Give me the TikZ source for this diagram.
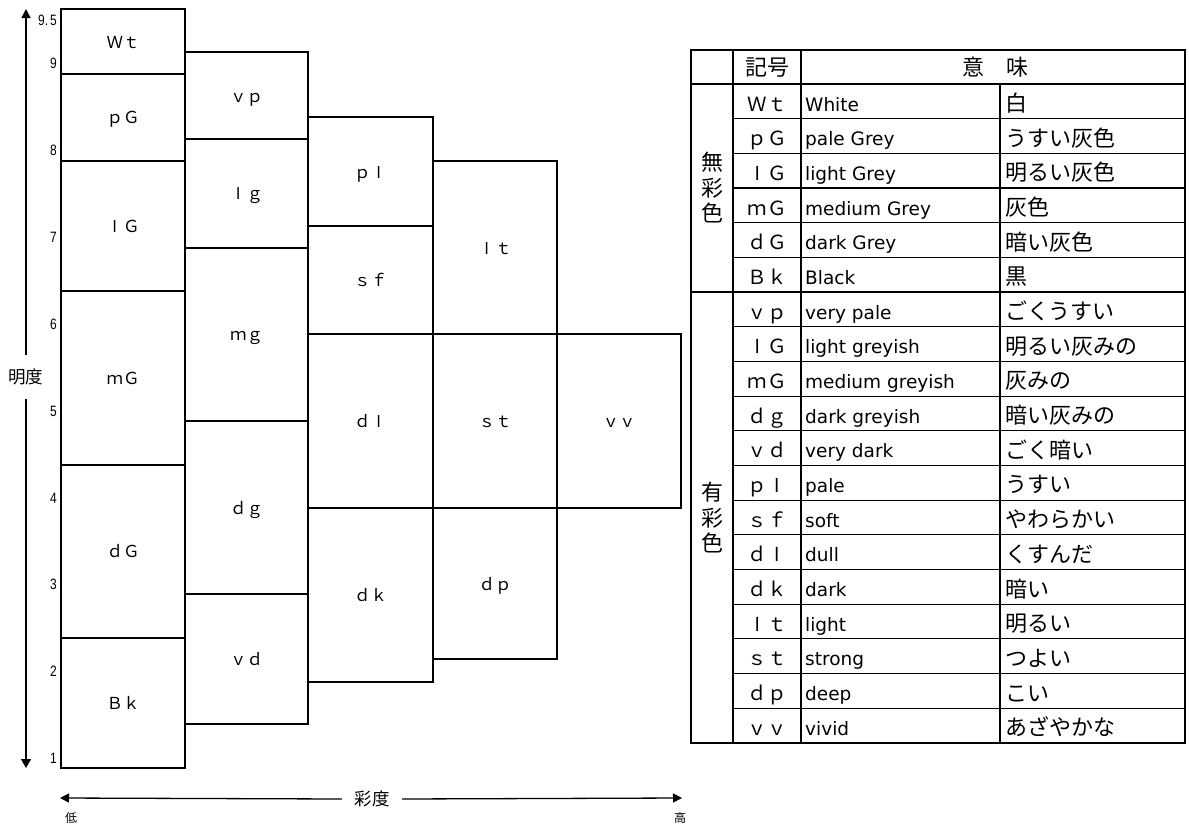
\documentclass[tikz,border=0pt]{standalone}
\usepackage{fontspec}
\usepackage{graphicx}
\newfontfamily\jp{Noto Sans CJK JP}
\newfontfamily\dv{DejaVu Sans}
\newfontfamily\lib{Liberation Sans}
\usetikzlibrary{arrows.meta}
\newcommand\fwl{\makebox[1em]{{\lib l}}}
\tikzset{
  boxline/.style={line width=2pt},
  boxlabel/.style={anchor=base, inner sep=0pt, font=\jp\fontsize{16.5}{16.5}\selectfont},
  ticklab/.style={anchor=east, inner sep=0pt, font=\lib\fontsize{15}{15}\selectfont},
  axis/.style={line width=1.3pt},
  axlab/.style={inner sep=0pt, font=\jp\fontsize{17.5}{17.5}\selectfont},
  endlab/.style={inner sep=0pt, font=\jp\fontsize{12}{12}\selectfont},
  thickrule/.style={line width=2.6pt},
  thinrule/.style={line width=1.2pt},
  symtxt/.style={anchor=base, inner sep=0pt, font=\jp\fontsize{19.5}{19.5}\selectfont},
  entxt/.style={anchor=base west, inner sep=0pt, font=\dv\fontsize{18.5}{18.5}\selectfont},
  jptxt/.style={anchor=base west, inner sep=0pt, font=\jp\fontsize{22}{22}\selectfont},
  grouptxt/.style={inner sep=0pt, align=center, font=\jp\fontsize{22}{25.5}\selectfont},
}
\newcommand\mybox[6]{\draw[boxline] (#1,#2) rectangle (#3,#4);
  \node[boxlabel] (#5) at ({(#1+#3)/2},{(#2+#4)/2+6.5}) {#6};}
\begin{document}
\begin{tikzpicture}[x=1pt,y=-1pt]
\useasboundingbox (0,0) rectangle (1189,827);
% ---- chart boxes ----
\mybox{61}{9}{185}{74}{Wt}{Ｗｔ}
\mybox{61}{74}{185}{160.5}{pG}{ｐＧ}
\mybox{61}{160.5}{185}{290.5}{lG}{\fwl Ｇ}
\mybox{61}{290.5}{185}{464.5}{mG}{ｍＧ}
\mybox{61}{464.5}{185}{638}{dG}{ｄＧ}
\mybox{61}{638}{185}{768}{Bk}{Ｂｋ}
\mybox{185}{52}{308}{139}{vp}{ｖｐ}
\mybox{185}{139}{308}{247.5}{lg}{\fwl ｇ}
\mybox{185}{247.5}{308}{421}{mg}{ｍｇ}
\mybox{185}{421}{308}{594}{dg}{ｄｇ}
\mybox{185}{594}{308}{724}{vd}{ｖｄ}
\mybox{308}{117}{433}{226}{pl}{ｐ\fwl}
\mybox{308}{226}{433}{334}{sf}{ｓｆ}
\mybox{308}{334}{433}{508}{dl}{ｄ\fwl}
\mybox{308}{508}{433}{682}{dk}{ｄｋ}
\mybox{433}{161}{557}{334}{lt}{\fwl ｔ}
\mybox{433}{334}{557}{508}{st}{ｓｔ}
\mybox{433}{508}{557}{659}{dp}{ｄｐ}
\mybox{557}{334}{681}{508}{vv}{ｖｖ}
% ---- tick labels ----
\node[ticklab] (t95) at (57,20.5) {\scalebox{0.8}[1]{9.\,5}};
\node[ticklab] (t9) at (57,63.5) {\scalebox{0.8}[1]{9}};
\node[ticklab] (t8) at (57,150.8) {\scalebox{0.8}[1]{8}};
\node[ticklab] (t7) at (57,237.6) {\scalebox{0.8}[1]{7}};
\node[ticklab] (t6) at (57,324.4) {\scalebox{0.8}[1]{6}};
\node[ticklab] (t5) at (57,411.2) {\scalebox{0.8}[1]{5}};
\node[ticklab] (t4) at (57,498) {\scalebox{0.8}[1]{4}};
\node[ticklab] (t3) at (57,584.8) {\scalebox{0.8}[1]{3}};
\node[ticklab] (t2) at (57,671.6) {\scalebox{0.8}[1]{2}};
\node[ticklab] (t1) at (57,758.4) {\scalebox{0.8}[1]{1}};
% ---- vertical axis ----
\node[axlab, minimum height=44pt] (lum) at (26,377) {明度};
\coordinate (ytop) at (26,9);
\coordinate (ybot) at (26,768);
\draw[axis,-{Triangle[length=9pt,width=9pt]}] (lum.north) -- (ytop);
\draw[axis,-{Triangle[length=9pt,width=10pt]}] (lum.south) -- (ybot);
% ---- horizontal axis ----
\node[axlab, minimum width=60pt] (chroma) at (372,799) {彩度};
\coordinate (xleft) at (60,798);
\coordinate (xright) at (682,798);
\draw[axis,-{Triangle[length=9pt,width=9pt]}] (chroma.west) -- (xleft);
\draw[axis,-{Triangle[length=9pt,width=9pt]}] (chroma.east) -- (xright);
\node[endlab] (low) at (71,818) {低};
\node[endlab] (high) at (680,818) {高};
% ---- table ----
\foreach \i in {2,...,19}{
  \ifnum\i=7\else
  \draw[thinrule] (733,{84+(\i-1)*34.68}) -- (1185,{84+(\i-1)*34.68});
  \fi
}
\draw[thinrule] (1000,84) -- (1000,743);
\draw[thickrule] (691,84) -- (1185,84);
\draw[thickrule] (691,292.08) -- (1185,292.08);
\draw[thickrule] (733,50) -- (733,743);
\draw[thickrule] (801,50) -- (801,743);
\draw[thickrule] (691,50) rectangle (1185,743);
\node[jptxt, anchor=base] (hsym) at (767,75) {記号};
\node[jptxt, anchor=base] (hmean) at (995,75) {意　味};
\node[grouptxt] (achrom) at (712,188) {無\\彩\\色};
\node[grouptxt] (chrom) at (712,518) {有\\彩\\色};
\foreach \s/\e/\j [count=\i] in {
  Ｗｔ/White/白,
  ｐＧ/pale Grey/うすい灰色,
  \fwl Ｇ/light Grey/明るい灰色,
  ｍＧ/medium Grey/灰色,
  ｄＧ/dark Grey/暗い灰色,
  Ｂｋ/Black/黒,
  ｖｐ/very pale/ごくうすい,
  \fwl Ｇ/light greyish/明るい灰みの,
  ｍＧ/medium greyish/灰みの,
  ｄｇ/dark greyish/暗い灰みの,
  ｖｄ/very dark/ごく暗い,
  ｐ\fwl/pale/うすい,
  ｓｆ/soft/やわらかい,
  ｄ\fwl/dull/くすんだ,
  ｄｋ/dark/暗い,
  \fwl ｔ/light/明るい,
  ｓｔ/strong/つよい,
  ｄｐ/deep/こい,
  ｖｖ/vivid/あざやかな}{
  \node[symtxt] (s\i) at (767,{84+(\i-1)*34.68+27}) {\s};
  \node[entxt] (e\i) at (805,{84+(\i-1)*34.68+27}) {\e};
  \node[jptxt] (j\i) at (1005,{84+(\i-1)*34.68+27.5}) {\j};
}
\end{tikzpicture}
\end{document}
